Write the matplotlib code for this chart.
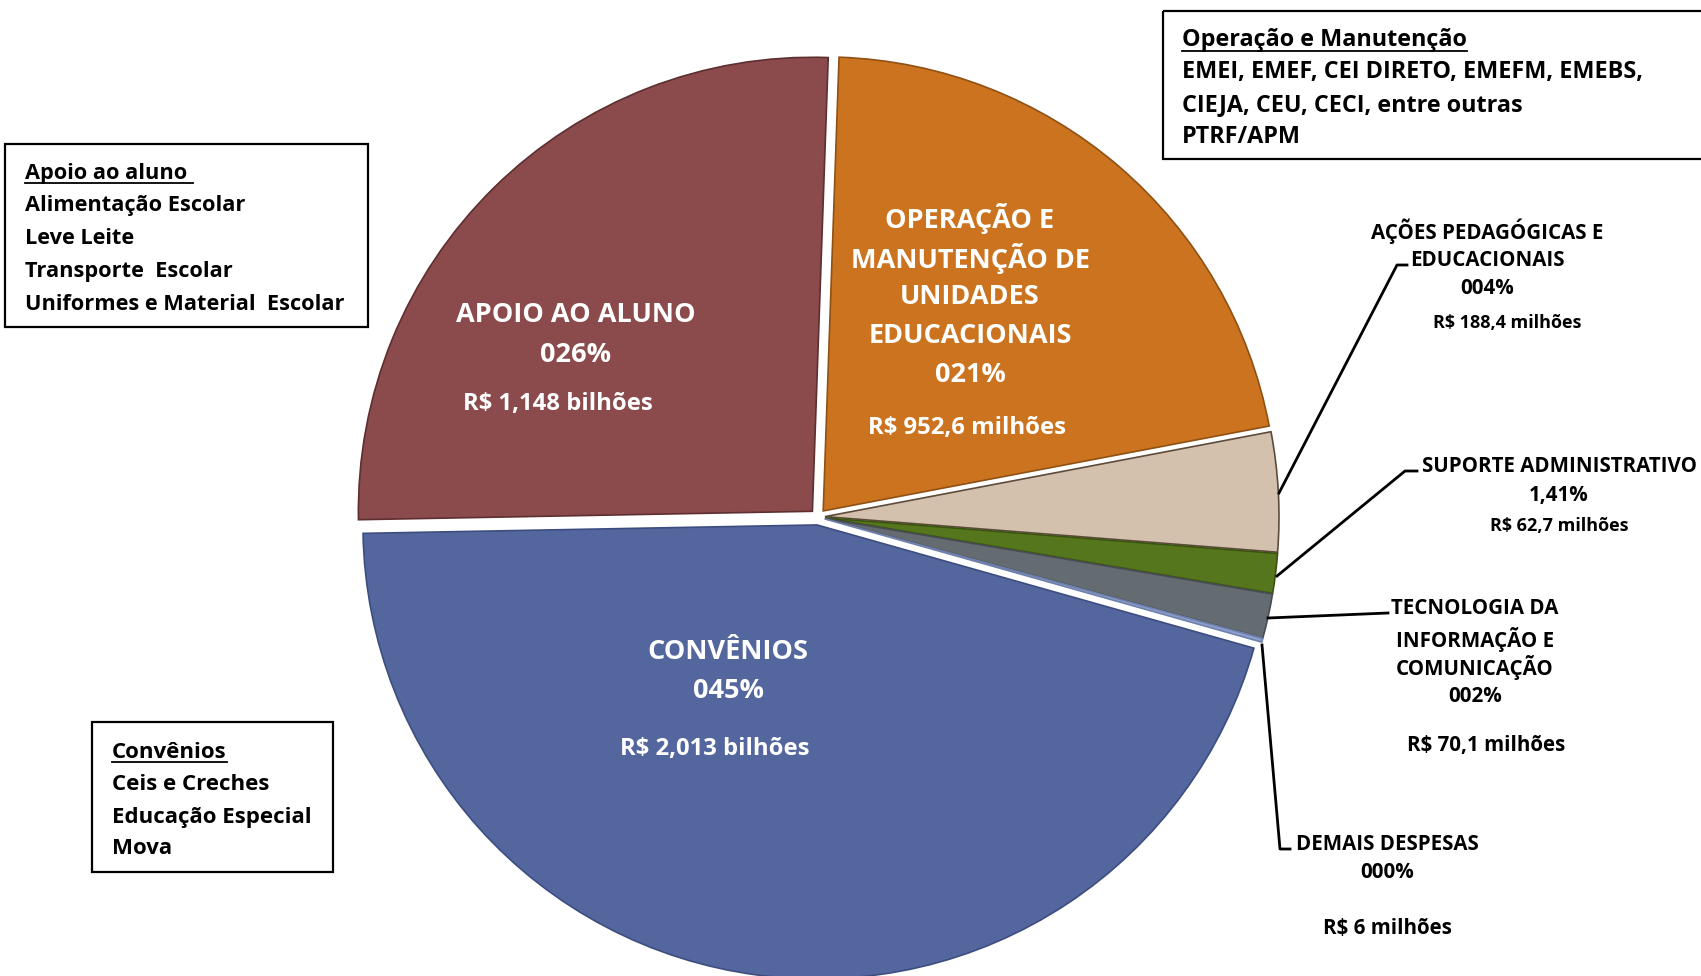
import matplotlib
matplotlib.use('Agg')
import matplotlib.pyplot as plt
from matplotlib.patches import Rectangle

plt.rcParams['font.family'] = ['Open Sans', 'DejaVu Sans']

# dados (R$ milhões)
categorias = ['OPERAÇÃO E MANUTENÇÃO DE UNIDADES EDUCACIONAIS',
              'AÇÕES PEDAGÓGICAS E EDUCACIONAIS',
              'SUPORTE ADMINISTRATIVO',
              'TECNOLOGIA DA INFORMAÇÃO E COMUNICAÇÃO',
              'DEMAIS DESPESAS',
              'CONVÊNIOS',
              'APOIO AO ALUNO']
valores = [952.6, 188.4, 62.7, 70.1, 6.0, 2013.0, 1148.0]
percentuais = ['021%', '004%', '1,41%', '002%', '000%', '045%', '026%']
montantes = ['R$ 952,6 milhões', 'R$ 188,4 milhões', 'R$ 62,7 milhões',
             'R$ 70,1 milhões', 'R$ 6 milhões', 'R$ 2,013 bilhões',
             'R$ 1,148 bilhões']

cores = ['#CC731F', '#D3C1AE', '#55761C', '#646C72', '#8D9FCC', '#53669E', '#8B4A4C']
bordas = ['#8F5114', '#5E4B3A', '#3B5212', '#474D52', '#6F80AC', '#3D4D80', '#5E2F30']
explode = [8, 7, 7, 7, 7, 8, 8]   # deslocamento em pixels

caixa_apoio = ['Apoio ao aluno ', 'Alimentação Escolar', 'Leve Leite',
               'Transporte  Escolar', 'Uniformes e Material  Escolar']
caixa_operacao = ['Operação e Manutenção', 'EMEI, EMEF, CEI DIRETO, EMEFM, EMEBS,',
                  'CIEJA, CEU, CECI, entre outras', 'PTRF/APM']
caixa_convenios = ['Convênios', 'Ceis e Creches', 'Educação Especial', 'Mova']

W, H = 1701, 976
fig = plt.figure(figsize=(W / 100, H / 100), dpi=100)
ax = fig.add_axes([0, 0, 1, 1])

# y invertido -> coordenadas em pixels da imagem
wedges, _ = ax.pie(valores, colors=cores, explode=explode, radius=454,
                   center=(818, 517), startangle=-88, counterclock=True,
                   wedgeprops=dict(linewidth=1.2))
for w, ec in zip(wedges, bordas):
    w.set_edgecolor(ec)

ax.set_xlim(0, W)
ax.set_ylim(H, 0)
ax.set_aspect('equal', adjustable='datalim')
ax.axis('off')

def bloco(linhas, x, ys, tamanhos, cor):
    for s, y, fs in zip(linhas, ys, tamanhos):
        ax.text(x, y + 2, s, ha='center', va='center', color=cor,
                fontsize=fs, fontweight='bold')

# rótulos internos (brancos)
bloco(['APOIO AO ALUNO', percentuais[6]], 576, [313, 353], [19.5, 19.5], 'white')
bloco([montantes[6]], 558, [402], [17.2], 'white')
bloco(['OPERAÇÃO E', 'MANUTENÇÃO DE', 'UNIDADES', 'EDUCACIONAIS', percentuais[0]],
      970, [217, 256, 295, 334, 373], [19.5] * 5, 'white')
bloco([montantes[0]], 967, [426], [17.2], 'white')
bloco(['CONVÊNIOS', percentuais[5]], 728, [650, 689], [19.5, 19.5], 'white')
bloco([montantes[5]], 715, [747], [17.2], 'white')

# rótulos externos (pretos)
bloco(['AÇÕES PEDAGÓGICAS E', 'EDUCACIONAIS', percentuais[1]],
      1487, [229, 258, 287], [14.8] * 3, 'black')
bloco([montantes[1]], 1507, [321], [13], 'black')
bloco(['SUPORTE ADMINISTRATIVO', percentuais[2]], 1559, [464, 494], [14.8] * 2, 'black')
bloco([montantes[2]], 1559, [524], [13], 'black')
bloco(['TECNOLOGIA DA', 'INFORMAÇÃO E', 'COMUNICAÇÃO', percentuais[3]],
      1475, [607, 637, 665, 695], [14.8] * 4, 'black')
bloco([montantes[3]], 1486, [744], [14.8], 'black')
bloco(['DEMAIS DESPESAS', percentuais[4]], 1387, [842, 871], [14.8] * 2, 'black')
bloco([montantes[4]], 1387, [926], [14.8], 'black')

# linhas de chamada
lw = 2
ax.plot([1279, 1397, 1407], [493, 265, 265], color='black', lw=lw)
ax.plot([1277, 1405, 1417], [576, 471, 471], color='black', lw=lw)
ax.plot([1268, 1388], [618, 613], color='black', lw=lw)
ax.plot([1262, 1280, 1290], [645, 849, 849], color='black', lw=lw)

# caixas de texto
def caixa(linhas, x0, y0, x1, y1, tx, ys, fs):
    ax.add_patch(Rectangle((x0, y0), x1 - x0, y1 - y0, fill=False,
                           edgecolor='black', lw=1.6, clip_on=False))
    txts = []
    for s, y in zip(linhas, ys):
        txts.append(ax.text(tx, y + 2, s, ha='left', va='center', fontsize=fs,
                            fontweight='bold', color='black'))
    return txts[0]

cabecalhos = [
    caixa(caixa_apoio, 5, 144, 368, 327, 25, [171, 204, 236, 269, 302], 15.7),
    caixa(caixa_operacao, 1163, 11, 1720, 159, 1182, [38, 70, 103, 135], 16.8),
    caixa(caixa_convenios, 92, 722, 333, 872, 112, [750, 782, 815, 847], 16),
]

# sublinhado dos títulos
fig.canvas.draw()
r = fig.canvas.get_renderer()
inv = ax.transData.inverted()
for t in cabecalhos:
    bb = t.get_window_extent(r)
    (xa, ya), (xb, yb) = inv.transform([(bb.x0, bb.y0), (bb.x1, bb.y0)])
    ax.plot([xa, xb], [ya - 1, yb - 1], color='black', lw=1.3)

fig.savefig('out.png', dpi=100)
